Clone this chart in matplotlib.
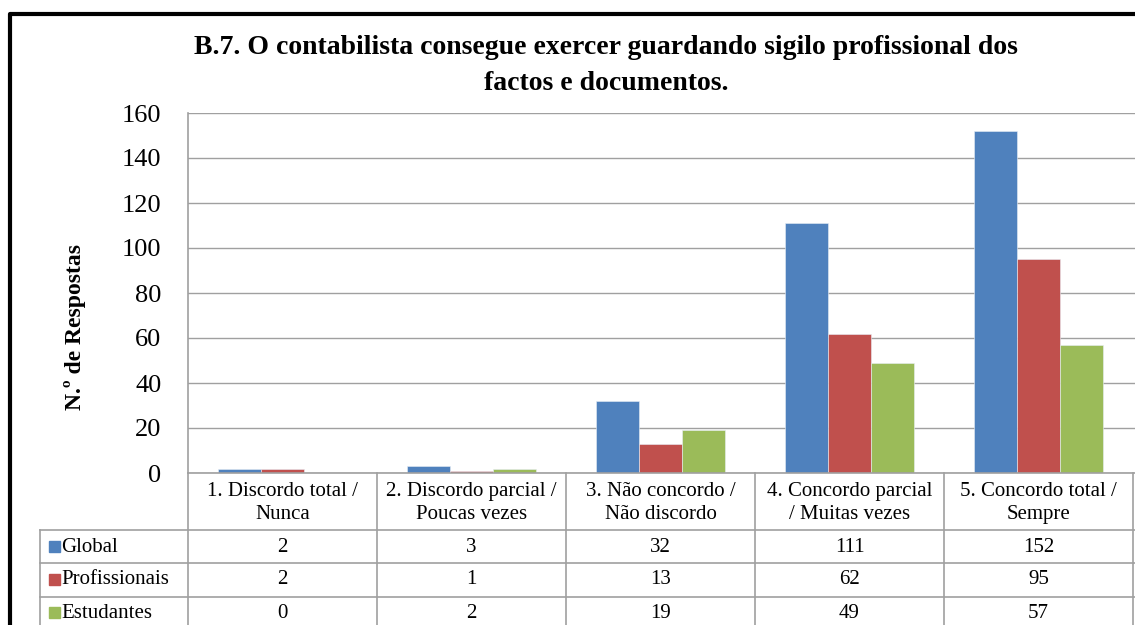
import matplotlib.pyplot as plt
import numpy as np
from matplotlib.lines import Line2D
from matplotlib.patches import Rectangle

categories = ["1. Discordo total /\nNunca", "2. Discordo parcial /\nPoucas vezes",
              "3. Não concordo /\nNão discordo", "4. Concordo parcial\n/ Muitas vezes",
              "5. Concordo total /\nSempre"]
series = ["Global", "Profissionais", "Estudantes"]
global_vals = [2, 3, 32, 111, 152]
prof_vals = [2, 1, 13, 62, 95]
estud_vals = [0, 2, 19, 49, 57]
colors = ["#4F81BD", "#C0504D", "#9BBB59"]

plt.rcParams['font.family'] = ['Liberation Serif', 'DejaVu Serif']

W, H = 1135, 625
fig = plt.figure(figsize=(W / 100, H / 100), dpi=100)


def fx(px):
    return px / W


def fy(py):
    return 1 - py / H


# plot area in pixels
left, right, top, bottom = 188, 1135, 113, 473
ax = fig.add_axes([fx(left), fy(bottom), fx(right - left), (bottom - top) / H])
n = len(categories)
x = np.arange(n) + 0.5
w = 43 / 189
for i, (vals, c) in enumerate(zip([global_vals, prof_vals, estud_vals], colors)):
    ax.bar(x + (i - 1) * w, vals, width=w, color=c, edgecolor='#E8EEF6', linewidth=0.4, zorder=3)

ax.set_xlim(0, (right - left) / 189)
ax.set_ylim(0, 160)
ax.set_yticks(range(0, 161, 20))
ax.set_xticks([])
ax.tick_params(axis='y', length=0, labelsize=19, pad=19)
ax.grid(axis='y', color='#A0A0A0', linewidth=1, zorder=0)
for s in ['top', 'right', 'bottom']:
    ax.spines[s].set_visible(False)
ax.spines['left'].set_color('#A0A0A0')
ax.spines['left'].set_linewidth(1.2)

# y label placed like the original
fig.text(fx(75), fy(327), "N.º de Respostas", rotation=90, ha='center', va='center',
         fontsize=17, fontweight='bold')

# title
fig.text(fx(606), fy(48), "B.7. O contabilista consegue exercer guardando sigilo profissional dos",
         ha='center', va='center', fontsize=20, fontweight='bold')
fig.text(fx(606), fy(84), "factos e documentos.", ha='center', va='center',
         fontsize=20, fontweight='bold')

# data table
gc = '#A0A0A0'
rows_y = [473, 530, 563, 597]
lines = []
lines.append(Line2D([fx(left), 1], [fy(473), fy(473)], color=gc, lw=1.2))
for yy in rows_y[1:]:
    lines.append(Line2D([fx(40), 1], [fy(yy), fy(yy)], color=gc, lw=1.2))
lines.append(Line2D([fx(40), fx(40)], [fy(530), 0], color=gc, lw=1.2))
for k in range(n + 1):
    xp = left + k * 189
    lines.append(Line2D([fx(xp), fx(xp)], [fy(473), 0], color=gc, lw=1.2))
for ln in lines:
    fig.add_artist(ln)

for k, cat in enumerate(categories):
    xc = left + (k + 0.5) * 189
    fig.text(fx(xc), fy(503), cat, ha='center', va='center', fontsize=15, linespacing=1.3)

row_centers = [547, 580, 613]
for name, vals, c, yc in zip(series, [global_vals, prof_vals, estud_vals], colors, row_centers):
    fig.add_artist(Rectangle((fx(49), fy(yc + 5)), fx(11), 11 / H, color=c,
                             transform=fig.transFigure))
    fig.text(fx(61), fy(yc), name, ha='left', va='center', fontsize=15)
    for k, v in enumerate(vals):
        xc = left + (k + 0.5) * 189
        fig.text(fx(xc), fy(yc), str(v), ha='center', va='center', fontsize=15)

# outer chart frame
fig.add_artist(Line2D([fx(10), fx(10), 1], [0, fy(14), fy(14)], color='black', lw=3))

fig.savefig("out.png", dpi=100)
